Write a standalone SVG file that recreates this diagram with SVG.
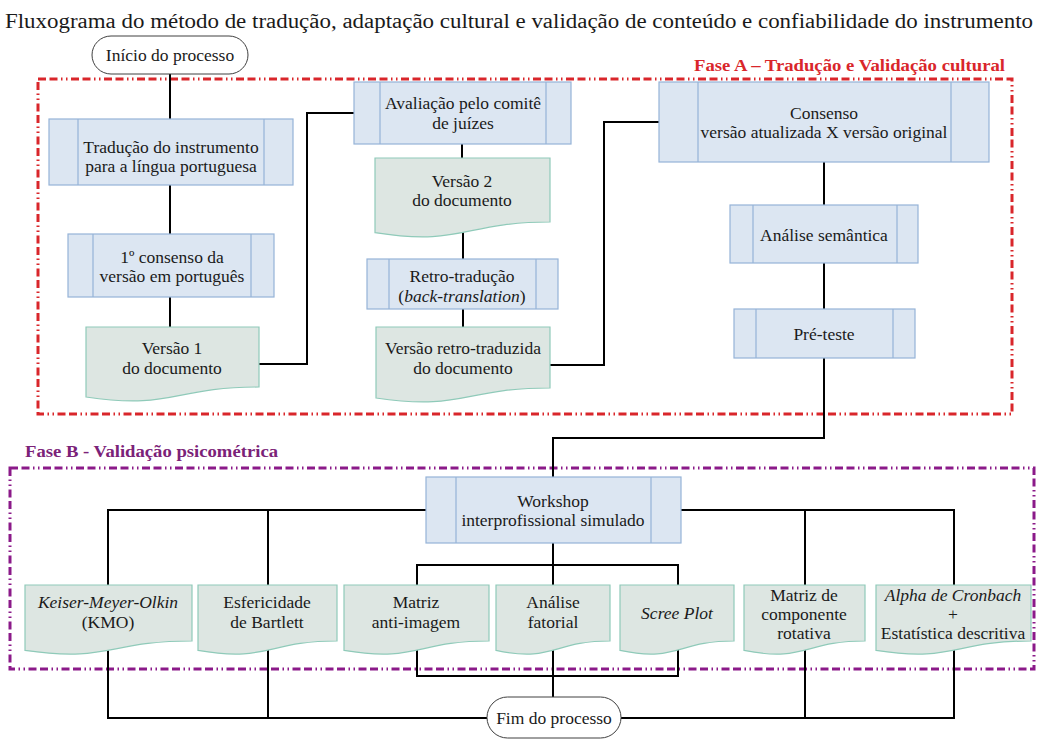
<svg xmlns="http://www.w3.org/2000/svg" width="1037" height="740" viewBox="0 0 1037 740">
<style>
.proc{fill:#dce6f2;stroke:#95b3d7;stroke-width:1.2}
.doc{fill:#dde6e2;stroke:#8fcab9;stroke-width:1.2}
.term{fill:#fff;stroke:#404040;stroke-width:1}
.conn{fill:none;stroke:#000;stroke-width:2}
.t{font-family:"Liberation Serif","DejaVu Serif",serif;font-size:17.5px;fill:#1a1a1a;text-anchor:middle}
.i{font-style:italic}
.phA{fill:none;stroke:#d9262b;stroke-width:3;stroke-dasharray:8 3.5 8 3.5 1.5 3.5 1.5 3.5}
.phB{fill:none;stroke:#8b1a89;stroke-width:3;stroke-dasharray:8 3.5 8 3.5 1.5 3.5 1.5 3.5}
.lbl{font-family:"Liberation Serif","DejaVu Serif",serif;font-size:17.5px;font-weight:bold}
.title{font-family:"Liberation Serif","DejaVu Serif",serif;font-size:20.5px;fill:#1a1a1a;text-anchor:middle}
</style>
<rect width="1037" height="740" fill="#fff"/>
<text class="title" x="519" y="28" textLength="1028" lengthAdjust="spacingAndGlyphs">Fluxograma do método de tradução, adaptação cultural e validação de conteúdo e confiabilidade do instrumento</text>

<g id="phaseA">
<rect class="phA" x="38" y="79" width="974" height="335"/>
<text class="lbl" x="1005" y="71" fill="#d9262b" text-anchor="end" textLength="311" lengthAdjust="spacingAndGlyphs">Fase A – Tradução e Validação cultural</text>
</g>
<g id="phaseB">
<rect class="phB" x="10" y="468" width="1024" height="201"/>
<text class="lbl" x="25" y="457" fill="#7b2278" textLength="253" lengthAdjust="spacingAndGlyphs">Fase B - Validação psicométrica</text>
</g>

<g id="connectors">
<path class="conn" d="M170,74 V119"/>
<path class="conn" d="M170,185 V234"/>
<path class="conn" d="M170,297 V327"/>
<path class="conn" d="M259,364 H307 V113 H354"/>
<path class="conn" d="M462,144 V158"/>
<path class="conn" d="M463,232 V259"/>
<path class="conn" d="M463,309 V327"/>
<path class="conn" d="M550,365 H604 V122 H659"/>
<path class="conn" d="M824,162 V205"/>
<path class="conn" d="M824,263 V309"/>
<path class="conn" d="M824,358 V438 H553 V477"/>
<path class="conn" d="M426,510 H108 V585"/>
<path class="conn" d="M268,510 V585"/>
<path class="conn" d="M681,510 H954 V585"/>
<path class="conn" d="M805,510 V585"/>
<path class="conn" d="M553,543 V585"/>
<path class="conn" d="M417,585 V565 H678 V585"/>
<path class="conn" d="M417,645 V676 H678 V645"/>
<path class="conn" d="M553,645 V697"/>
<path class="conn" d="M108,645 V718 H487"/>
<path class="conn" d="M268,645 V718"/>
<path class="conn" d="M621,718 H954 V645"/>
<path class="conn" d="M805,645 V718"/>
</g>

<g id="inicio">
<rect class="term" x="92" y="36" width="156" height="38" rx="19"/>
<text class="t" x="170" y="61">Início do processo</text>
</g>

<g id="traducao">
<rect class="proc" x="49" y="119" width="244" height="66"/>
<path class="proc" d="M78,119 V185 M264,119 V185"/>
<text class="t" x="171" y="153">Tradução do instrumento</text>
<text class="t" x="171" y="172">para a língua portuguesa</text>
</g>

<g id="consenso1">
<rect class="proc" x="68" y="234" width="206" height="63"/>
<path class="proc" d="M93,234 V297 M251,234 V297"/>
<text class="t" x="172" y="263">1º consenso da</text>
<text class="t" x="172" y="282">versão em português</text>
</g>

<g id="versao1">
<path class="doc" d="M86,327 H259 V387 C172.5,387 172.5,410 86,397 Z"/>
<text class="t" x="172" y="354">Versão 1</text>
<text class="t" x="172" y="374">do documento</text>
</g>

<g id="avaliacao">
<rect class="proc" x="354" y="82" width="217" height="62"/>
<path class="proc" d="M380,82 V144 M546,82 V144"/>
<text class="t" x="463" y="109">Avaliação pelo comitê</text>
<text class="t" x="463" y="129">de juízes</text>
</g>

<g id="versao2">
<path class="doc" d="M375,158 H550 V222 C462.5,222 462.5,246.6 375,232.7 Z"/>
<text class="t" x="462" y="187">Versão 2</text>
<text class="t" x="462" y="206">do documento</text>
</g>

<g id="retrotraducao">
<rect class="proc" x="367" y="259" width="191" height="50"/>
<path class="proc" d="M389,259 V309 M536,259 V309"/>
<text class="t" x="462" y="282">Retro-tradução</text>
<text class="t" x="462" y="302">(<tspan class="i">back-translation</tspan>)</text>
</g>

<g id="versaoretro">
<path class="doc" d="M376,327 H550 V388 C463,388 463,411 376,398 Z"/>
<text class="t" x="463" y="354">Versão retro-traduzida</text>
<text class="t" x="463" y="374">do documento</text>
</g>

<g id="consenso2">
<rect class="proc" x="659" y="82" width="330" height="80"/>
<path class="proc" d="M698,82 V162 M951,82 V162"/>
<text class="t" x="824" y="119">Consenso</text>
<text class="t" x="824" y="138">versão atualizada X versão original</text>
</g>

<g id="semantica">
<rect class="proc" x="730" y="205" width="188" height="58"/>
<path class="proc" d="M753,205 V263 M897,205 V263"/>
<text class="t" x="824" y="241">Análise semântica</text>
</g>

<g id="preteste">
<rect class="proc" x="734" y="309" width="181" height="49"/>
<path class="proc" d="M756,309 V358 M893,309 V358"/>
<text class="t" x="824" y="340">Pré-teste</text>
</g>

<g id="workshop">
<rect class="proc" x="426" y="477" width="255" height="66"/>
<path class="proc" d="M456,477 V543 M651,477 V543"/>
<text class="t" x="553" y="507">Workshop</text>
<text class="t" x="553" y="526">interprofissional simulado</text>
</g>

<g id="kmo">
<path class="doc" d="M25,585 H192 V641 C108.5,641 108.5,662.5 25,650.4 Z"/>
<text class="t i" x="108" y="608">Keiser-Meyer-Olkin</text>
<text class="t" x="108" y="628">(KMO)</text>
</g>

<g id="esfericidade">
<path class="doc" d="M198,585 H337 V641 C267.5,641 267.5,662.5 198,650.4 Z"/>
<text class="t" x="267" y="608">Esfericidade</text>
<text class="t" x="267" y="628">de Bartlett</text>
</g>

<g id="antiimagem">
<path class="doc" d="M344,585 H489 V641 C416.5,641 416.5,662.5 344,650.4 Z"/>
<text class="t" x="416" y="608">Matriz</text>
<text class="t" x="416" y="628">anti-imagem</text>
</g>

<g id="fatorial">
<path class="doc" d="M496,585 H610 V641 C553,641 553,662.5 496,650.4 Z"/>
<text class="t" x="553" y="608">Análise</text>
<text class="t" x="553" y="628">fatorial</text>
</g>

<g id="screeplot">
<path class="doc" d="M620,585 H734 V641 C677,641 677,662.5 620,650.4 Z"/>
<text class="t i" x="677" y="619">Scree Plot</text>
</g>

<g id="componente">
<path class="doc" d="M744,585 H865 V641 C804.5,641 804.5,662.5 744,650.4 Z"/>
<text class="t" x="804" y="601">Matriz de</text>
<text class="t" x="804" y="620">componente</text>
<text class="t" x="804" y="639">rotativa</text>
</g>

<g id="alpha">
<path class="doc" d="M876,585 H1031 V641 C953.5,641 953.5,662.5 876,650.4 Z"/>
<text class="t i" x="953" y="601">Alpha de Cronbach</text>
<text class="t" x="953" y="620">+</text>
<text class="t" x="953" y="639">Estatística descritiva</text>
</g>

<g id="fim">
<rect class="term" x="487" y="697" width="134" height="41" rx="20.5"/>
<text class="t" x="554" y="724">Fim do processo</text>
</g>
</svg>
